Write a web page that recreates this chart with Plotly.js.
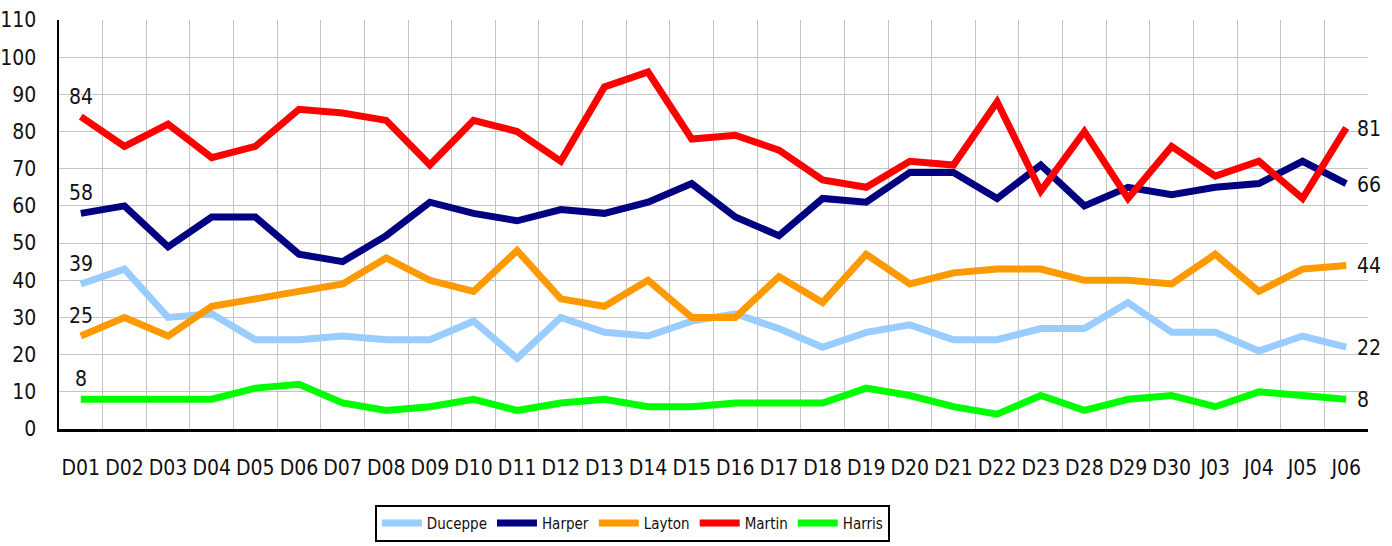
<!DOCTYPE html>
<html>
<head>
<meta charset="utf-8">
<script src="https://cdn.plot.ly/plotly-3.0.1.min.js"></script>
<style>
html,body{margin:0;padding:0;background:#fff;}
#chart{width:1392px;height:546px;}
#chart text{font-stretch:condensed !important;}
</style>
</head>
<body>
<div id="chart"></div>
<script>
const categories = ["D01","D02","D03","D04","D05","D06","D07","D08","D09","D10","D11","D12","D13","D14","D15","D16","D17","D18","D19","D20","D21","D22","D23","D28","D29","D30","J03","J04","J05","J06"];
const duceppe = [39,43,30,31,24,24,25,24,24,29,19,30,26,25,29,31,27,22,26,28,24,24,27,27,34,26,26,21,25,22];
const harper  = [58,60,49,57,57,47,45,52,61,58,56,59,58,61,66,57,52,62,61,69,69,62,71,60,65,63,65,66,72,66];
const layton  = [25,30,25,33,35,37,39,46,40,37,48,35,33,40,30,30,41,34,47,39,42,43,43,40,40,39,47,37,43,44];
const martin  = [84,76,82,73,76,86,85,83,71,83,80,72,92,96,78,79,75,67,65,72,71,88,64,80,62,76,68,72,62,81];
const harris  = [8,8,8,8,11,12,7,5,6,8,5,7,8,6,6,7,7,7,11,9,6,4,9,5,8,9,6,10,9,8];
const seriesNames = ["Duceppe","Harper","Layton","Martin","Harris"];
const yTicks = [0,10,20,30,40,50,60,70,80,90,100,110];

const FONT = '"DejaVu Sans Condensed", "DejaVu Sans", sans-serif';
const colors = ["#99ccff","#000080","#ff9900","#ff0000","#00ff00"];
const allData = [duceppe, harper, layton, martin, harris];

const traces = allData.map((arr,k)=>({
  type:"scatter",
  mode:"lines",
  x: categories,
  y: arr,
  name: seriesNames[k],
  line:{color:colors[k], width:7, shape:"linear"},
  cliponaxis:false,
  hoverinfo:"x+y+name"
}));

const annotations = [];
allData.forEach(arr=>{
  const last = arr.length-1;
  annotations.push({
    x: categories[0], y: arr[0], xref:"x", yref:"y",
    text: String(arr[0]), showarrow:false,
    xanchor:"center", yanchor:"bottom", yshift:6,
    font:{family:FONT, size:21, color:"#111"}
  });
  annotations.push({
    x: categories[last], y: arr[last], xref:"x", yref:"y",
    text: String(arr[last]), showarrow:false,
    xanchor:"left", yanchor:"middle", xshift:9, yshift:-1,
    font:{family:FONT, size:21, color:"#111"}
  });
});

const layout = {
  width:1392, height:546,
  margin:{l:59, r:24, t:20, b:117, autoexpand:false},
  paper_bgcolor:"#fff", plot_bgcolor:"#fff",
  font:{family:FONT, size:21, color:"#111"},
  showlegend:true,
  annotations: annotations,
  xaxis:{
    type:"category",
    categoryorder:"array", categoryarray:categories,
    tickson:"boundaries",
    showgrid:true, gridcolor:"#c4c4c4", gridwidth:1,
    showline:true, linecolor:"#000", linewidth:2.5,
    ticks:"", ticklabelstandoff:18, tickangle:0,
    tickfont:{family:FONT, size:21, color:"#111"},
    range:[-0.5, 29.5], fixedrange:true, zeroline:false, automargin:false
  },
  yaxis:{
    range:[0,110], tickvals:yTicks, ticktext:yTicks.map(String),
    showgrid:true, gridcolor:"#c4c4c4", gridwidth:1,
    showline:true, linecolor:"#000", linewidth:2.5,
    ticks:"", ticklabelstandoff:16,
    tickfont:{family:FONT, size:21, color:"#111"},
    zeroline:false, fixedrange:true, automargin:false
  },
  legend:{
    orientation:"h",
    x:0.438, xanchor:"center",
    y:-0.185, yanchor:"top",
    bordercolor:"#000", borderwidth:2,
    bgcolor:"#fff",
    font:{family:FONT, size:15, color:"#111"},
    itemwidth:40, tracegroupgap:0,
    traceorder:"normal"
  }
};

Plotly.newPlot("chart", traces, layout, {displayModeBar:false, staticPlot:true});
</script>
</body>
</html>
